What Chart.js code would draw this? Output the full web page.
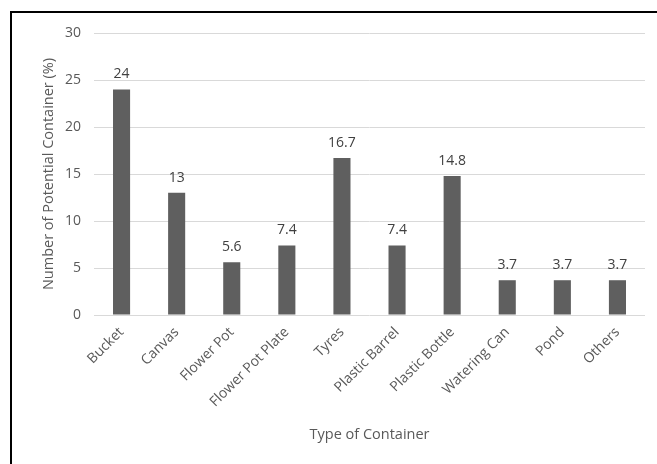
<!DOCTYPE html>
<html>
<head>
<meta charset="utf-8">
<script src="https://cdn.jsdelivr.net/npm/chart.js@4/dist/chart.umd.min.js"></script>
<style>
  html, body { margin: 0; padding: 0; background: #ffffff; }
  #wrap { width: 657px; height: 464px; }
</style>
</head>
<body>
<div id="wrap"><canvas id="c" width="657" height="464"></canvas></div>
<script>
const categories = ['Bucket', 'Canvas', 'Flower Pot', 'Flower Pot Plate', 'Tyres',
  'Plastic Barrel', 'Plastic Bottle', 'Watering Can', 'Pond', 'Others'];
const percentages = [24, 13, 5.6, 7.4, 16.7, 7.4, 14.8, 3.7, 3.7, 3.7];
const yTicks = [0, 5, 10, 15, 20, 25, 30];

const FONT = '"Open Sans", Lato, sans-serif';

// Black frame around the chart
const framePlugin = {
  id: 'frame',
  afterDraw(chart) {
    const ctx = chart.ctx;
    ctx.save();
    ctx.strokeStyle = '#000000';
    ctx.lineWidth = 2;
    ctx.strokeRect(11, 12, 700, 500);
    ctx.restore();
  }
};

// Value labels above each bar
const valueLabels = {
  id: 'valueLabels',
  afterDatasetsDraw(chart) {
    const ctx = chart.ctx;
    const meta = chart.getDatasetMeta(0);
    ctx.save();
    ctx.font = '14px ' + FONT;
    ctx.fillStyle = '#404040';
    ctx.textAlign = 'center';
    ctx.textBaseline = 'alphabetic';
    meta.data.forEach((bar, i) => {
      ctx.fillText(String(percentages[i]), bar.x, bar.y - 11);
    });
    ctx.restore();
  }
};

new Chart(document.getElementById('c'), {
  type: 'bar',
  data: {
    labels: categories,
    datasets: [{
      data: percentages,
      backgroundColor: '#5f5f5f',
      borderWidth: 0,
      categoryPercentage: 1,
      barPercentage: 0.31
    }]
  },
  options: {
    responsive: false,
    animation: false,
    layout: { padding: { left: 40, right: 12, top: 33, bottom: 0 } },
    plugins: { legend: { display: false }, tooltip: { enabled: false } },
    scales: {
      x: {
        grid: { display: false, drawTicks: false },
        border: { display: false },
        ticks: {
          color: '#595959',
          font: { family: FONT, size: 14 },
          maxRotation: 45,
          minRotation: 45,
          padding: 9,
          autoSkip: false
        },
        title: {
          display: true,
          text: 'Type of Container',
          color: '#595959',
          font: { family: FONT, size: 14.5 },
          padding: { top: 0, bottom: 20 }
        },
        afterFit(scale) { scale.height = 149; }
      },
      y: {
        min: 0,
        max: 30,
        afterBuildTicks(scale) { scale.ticks = yTicks.map(v => ({ value: v })); },
        grid: { color: '#d9d9d9', lineWidth: 1, drawTicks: false },
        border: { display: false },
        ticks: {
          color: '#595959',
          font: { family: FONT, size: 14 },
          padding: 13
        },
        title: {
          display: true,
          text: 'Number of Potential Container (%)',
          color: '#595959',
          font: { family: FONT, size: 14.5 },
          padding: { top: 0, bottom: 0 }
        },
        afterFit(scale) { scale.width = 54; }
      }
    }
  },
  plugins: [framePlugin, valueLabels]
});
</script>
</body>
</html>
